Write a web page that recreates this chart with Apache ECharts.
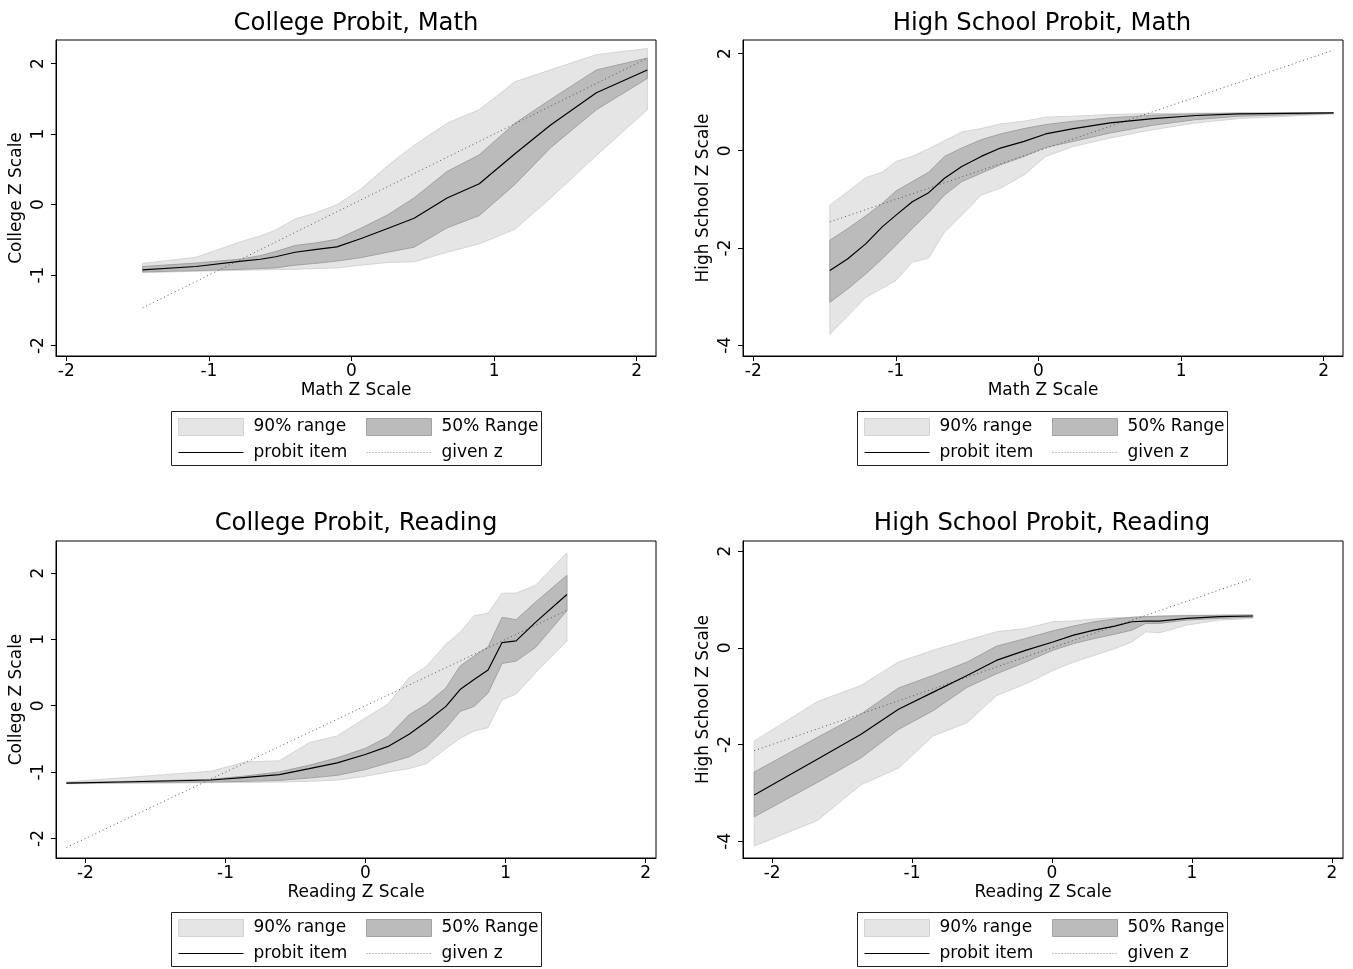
<!DOCTYPE html>
<html><head><meta charset="utf-8">
<script src="https://cdn.jsdelivr.net/npm/echarts@6/dist/echarts.min.js"></script>
<style>html,body{margin:0;padding:0;background:#fff}#c{width:1353px;height:969px}</style>
</head><body><div id="c"></div>
<script>
// ---------- Data ----------
const tickVals = [-2, -1, 0, 1, 2];
const tickValsHS = [-4, -2, 0, 2];

// Panel 1: College Probit, Math
const cm_x      = [-1.465,-1.091,-0.770,-0.639,-0.532,-0.396,-0.258,-0.103,0.063,0.253,0.439,0.670,0.896,1.146,1.396,1.717,2.074];
const cm_p95    = [-0.835,-0.748,-0.522,-0.445,-0.363,-0.205,-0.123,-0.002,0.214,0.551,0.840,1.153,1.345,1.740,1.910,2.125,2.212];
const cm_p75    = [-0.878,-0.830,-0.772,-0.724,-0.666,-0.580,-0.546,-0.493,-0.339,-0.147,0.094,0.469,0.705,1.153,1.490,1.908,2.077];
const cm_probit = [-0.926,-0.878,-0.801,-0.775,-0.740,-0.676,-0.638,-0.599,-0.484,-0.339,-0.195,0.094,0.296,0.720,1.129,1.586,1.908];
const cm_p25    = [-0.955,-0.936,-0.917,-0.907,-0.898,-0.859,-0.835,-0.801,-0.753,-0.676,-0.604,-0.330,-0.156,0.286,0.806,1.345,1.788];
const cm_p5     = [-0.965,-0.946,-0.931,-0.926,-0.922,-0.917,-0.907,-0.898,-0.859,-0.821,-0.811,-0.676,-0.556,-0.349,0.094,0.696,1.345];
const cm_given  = [-1.465,-1.091,-0.770,-0.639,-0.532,-0.396,-0.258,-0.103,0.063,0.253,0.439,0.670,0.896,1.146,1.396,1.717,2.074];

// Panel 2: High School Probit, Math
const hm_x      = [-1.463,-1.337,-1.210,-1.096,-0.999,-0.885,-0.770,-0.659,-0.538,-0.402,-0.267,-0.101,0.050,0.246,0.502,0.803,1.105,1.406,2.069];
const hm_p95    = [-1.117,-0.842,-0.552,-0.442,-0.221,-0.117,0.041,0.207,0.386,0.455,0.551,0.607,0.689,0.710,0.745,0.765,0.772,0.779,0.779];
const hm_p75    = [-1.841,-1.600,-1.338,-1.083,-0.828,-0.635,-0.442,-0.117,0.055,0.227,0.345,0.455,0.538,0.607,0.676,0.731,0.758,0.772,0.779];
const hm_probit = [-2.462,-2.221,-1.910,-1.566,-1.324,-1.048,-0.862,-0.566,-0.324,-0.117,0.055,0.193,0.345,0.455,0.572,0.662,0.724,0.759,0.779];
const hm_p25    = [-3.117,-2.841,-2.531,-2.221,-1.945,-1.600,-1.269,-0.910,-0.635,-0.462,-0.290,-0.117,0.069,0.193,0.365,0.524,0.641,0.710,0.765];
const hm_p5     = [-3.772,-3.393,-3.014,-2.827,-2.669,-2.290,-2.207,-1.669,-1.324,-0.910,-0.772,-0.497,-0.117,0.090,0.262,0.434,0.572,0.662,0.758];
const hm_given  = [-1.463,-1.337,-1.210,-1.096,-0.999,-0.885,-0.770,-0.659,-0.538,-0.402,-0.267,-0.101,0.050,0.246,0.502,0.803,1.105,1.406,2.069];

// Panel 3: College Probit, Reading
const cr_x      = [-2.135,-1.754,-1.103,-0.853,-0.615,-0.402,-0.202,-0.002,0.161,0.311,0.437,0.574,0.675,0.775,0.875,0.975,1.075,1.213,1.438];
const cr_p95    = [-1.149,-1.089,-0.987,-0.846,-0.830,-0.557,-0.456,-0.187,0.025,0.420,0.597,0.927,1.104,1.357,1.392,1.696,1.696,1.813,2.304];
const cr_p75    = [-1.159,-1.144,-1.109,-1.058,-0.997,-0.896,-0.785,-0.643,-0.466,-0.137,0.025,0.268,0.597,0.749,0.886,1.332,1.296,1.559,1.965];
const cr_probit = [-1.165,-1.149,-1.119,-1.078,-1.038,-0.947,-0.861,-0.734,-0.613,-0.430,-0.238,-0.010,0.243,0.395,0.537,0.952,0.977,1.256,1.676];
const cr_p25    = [-1.170,-1.159,-1.149,-1.139,-1.124,-1.089,-1.048,-0.962,-0.861,-0.770,-0.618,-0.339,-0.086,-0.010,0.192,0.638,0.673,0.876,1.433];
const cr_p5     = [-1.175,-1.170,-1.159,-1.154,-1.149,-1.139,-1.119,-1.063,-0.997,-0.947,-0.871,-0.643,-0.491,-0.380,-0.329,0.091,0.177,0.496,0.977];
const cr_given  = [-2.135,-1.754,-1.103,-0.853,-0.615,-0.402,-0.202,-0.002,0.161,0.311,0.437,0.574,0.675,0.775,0.875,0.975,1.075,1.213,1.438];

// Panel 4: High School Probit, Reading
const hr_x      = [-2.128,-1.674,-1.367,-1.097,-0.852,-0.607,-0.398,-0.190,0.006,0.154,0.301,0.448,0.571,0.669,0.767,0.963,1.196,1.434];
const hr_p95    = [-1.931,-1.110,-0.783,-0.296,-0.052,0.157,0.330,0.400,0.539,0.553,0.595,0.623,0.630,0.644,0.658,0.671,0.678,0.685];
const hr_p75    = [-2.571,-1.850,-1.374,-0.832,-0.574,-0.296,0.031,0.191,0.351,0.449,0.539,0.595,0.630,0.644,0.651,0.665,0.671,0.678];
const hr_probit = [-3.045,-2.300,-1.792,-1.270,-0.922,-0.574,-0.261,-0.052,0.120,0.261,0.365,0.449,0.539,0.553,0.553,0.609,0.644,0.658];
const hr_p25    = [-3.497,-2.780,-2.279,-1.688,-1.305,-0.818,-0.539,-0.296,-0.052,0.087,0.191,0.282,0.365,0.504,0.504,0.574,0.609,0.630];
const hr_p5     = [-4.102,-3.567,-2.836,-2.488,-1.827,-1.548,-0.992,-0.748,-0.470,-0.296,-0.157,-0.017,0.122,0.330,0.310,0.470,0.574,0.609];
const hr_given  = [-2.128,-1.674,-1.367,-1.097,-0.852,-0.607,-0.398,-0.190,0.006,0.154,0.301,0.448,0.571,0.669,0.767,0.963,1.196,1.434];

const titles = ['College Probit, Math', 'High School Probit, Math', 'College Probit, Reading', 'High School Probit, Reading'];
const xNames = ['Math Z Scale', 'Math Z Scale', 'Reading Z Scale', 'Reading Z Scale'];
const yNames = ['College Z Scale', 'High School Z Scale', 'College Z Scale', 'High School Z Scale'];
const legendNames = ['90% range', '50% Range', 'probit item', 'given z'];

// ---------- Styles / layout ----------
const FONT = 'DejaVu Sans';
const LIGHT = '#e5e5e5', LIGHT_EDGE = '#d4d4d4';
const DARK = '#bbbbbb', DARK_EDGE = '#a2a2a2';

const panels = [
  {x: cm_x, p5: cm_p5, p25: cm_p25, pr: cm_probit, p75: cm_p75, p95: cm_p95, gz: cm_given,
   grid: {left: 56, top: 40, width: 600, height: 316}, xr: [-2.072, 2.135], yr: [-2.147, 2.333], yt: tickVals, cx: 351, ty: 7, lx: 171, ly: 411},
  {x: hm_x, p5: hm_p5, p25: hm_p25, pr: hm_probit, p75: hm_p75, p95: hm_p95, gz: hm_given,
   grid: {left: 743, top: 40, width: 600, height: 316}, xr: [-2.072, 2.135], yr: [-4.221, 2.277], yt: tickValsHS, cx: 1037, ty: 7, lx: 857, ly: 411},
  {x: cr_x, p5: cr_p5, p25: cr_p25, pr: cr_probit, p75: cr_p75, p95: cr_p95, gz: cr_given,
   grid: {left: 56, top: 541, width: 600, height: 317}, xr: [-2.21, 2.074], yr: [-2.294, 2.482], yt: tickVals, cx: 351, ty: 507, lx: 171, ly: 912},
  {x: hr_x, p5: hr_p5, p25: hr_p25, pr: hr_probit, p75: hr_p75, p95: hr_p95, gz: hr_given,
   grid: {left: 743, top: 541, width: 600, height: 317}, xr: [-2.208, 2.079], yr: [-4.348, 2.209], yt: tickValsHS, cx: 1037, ty: 507, lx: 857, ly: 912}
];

function band(i, xs, lo, hi, fill, edge, name) {
  return {
    type: 'custom', name: name, xAxisIndex: i, yAxisIndex: i, silent: true, clip: true,
    itemStyle: {color: fill, borderColor: edge, borderWidth: 1},
    data: [[xs[0], lo[0]]],
    renderItem: function (params, api) {
      const pts = [];
      for (let k = 0; k < xs.length; k++) pts.push(api.coord([xs[k], hi[k]]));
      for (let k = xs.length - 1; k >= 0; k--) pts.push(api.coord([xs[k], lo[k]]));
      return {type: 'polygon', shape: {points: pts}, style: {fill: fill, stroke: edge, lineWidth: 1}};
    }
  };
}
function pairs(xs, ys) { return xs.map((v, k) => [v, ys[k]]); }

const grids = [], xAxes = [], yAxes = [], series = [], titleArr = [], legends = [], graphics = [];
const axisText = {fontFamily: FONT, fontSize: 17, color: '#000'};

panels.forEach((p, i) => {
  grids.push(Object.assign({show: true, borderColor: '#000', borderWidth: 1, backgroundColor: '#fff'}, p.grid));
  xAxes.push({
    type: 'value', gridIndex: i, min: p.xr[0], max: p.xr[1],
    axisLine: {show: true, onZero: false, lineStyle: {color: '#000', width: 1}},
    axisTick: {show: true, customValues: tickVals, length: 5, lineStyle: {color: '#000'}},
    axisLabel: Object.assign({customValues: tickVals, margin: 7}, axisText),
    splitLine: {show: false},
    name: xNames[i], nameLocation: 'middle', nameGap: 26.5, nameTextStyle: axisText
  });
  yAxes.push({
    type: 'value', gridIndex: i, min: p.yr[0], max: p.yr[1],
    axisLine: {show: true, onZero: false, lineStyle: {color: '#000', width: 1}},
    axisTick: {show: true, customValues: p.yt, length: 5, lineStyle: {color: '#000'}},
    axisLabel: Object.assign({customValues: p.yt, margin: 9, rotate: 90}, axisText),
    splitLine: {show: false},
    name: yNames[i], nameLocation: 'middle', nameGap: 31, nameRotate: 90, nameTextStyle: axisText
  });
  series.push(band(i, p.x, p.p5, p.p95, LIGHT, LIGHT_EDGE, legendNames[0]));
  series.push(band(i, p.x, p.p25, p.p75, DARK, DARK_EDGE, legendNames[1]));
  series.push({type: 'line', name: legendNames[3], xAxisIndex: i, yAxisIndex: i, data: pairs(p.x, p.gz),
    symbol: 'none', silent: true, itemStyle: {color: '#555'}, lineStyle: {color: '#555', width: 1, type: [1, 3]}, z: 3});
  series.push({type: 'line', name: legendNames[2], xAxisIndex: i, yAxisIndex: i, data: pairs(p.x, p.pr),
    symbol: 'none', silent: true, itemStyle: {color: '#000'}, lineStyle: {color: '#000', width: 1.2}, z: 4});
  titleArr.push({text: titles[i], left: p.cx, top: p.ty, textAlign: 'center',
    textStyle: {fontFamily: FONT, fontSize: 24.3, fontWeight: 'normal', color: '#000'}});
  const common = {orient: 'vertical', itemWidth: 65, itemHeight: 17, itemGap: 8, selectedMode: false, padding: 0,
    textStyle: {fontFamily: FONT, fontSize: 17, color: '#000', padding: [0, 0, 0, 5]}};
  legends.push(Object.assign({left: p.lx + 7, top: p.ly + 7, data: [
    {name: legendNames[0], icon: 'rect', itemStyle: {color: LIGHT, borderColor: LIGHT_EDGE, borderWidth: 1}},
    {name: legendNames[2], itemStyle: {opacity: 0}, lineStyle: {color: '#000', width: 1}}
  ]}, common));
  legends.push(Object.assign({left: p.lx + 195, top: p.ly + 7, data: [
    {name: legendNames[1], icon: 'rect', itemStyle: {color: DARK, borderColor: DARK_EDGE, borderWidth: 1}},
    {name: legendNames[3], itemStyle: {opacity: 0}, lineStyle: {color: '#888', width: 1, type: [1, 2]}}
  ]}, common));
  graphics.push({type: 'rect', shape: {x: p.lx + 0.5, y: p.ly + 0.5, width: 370, height: 54},
    style: {fill: 'none', stroke: '#222', lineWidth: 1}, silent: true, z: -1});
});

const chart = echarts.init(document.getElementById('c'), null, {renderer: 'canvas'});
chart.setOption({
  backgroundColor: '#fff',
  animation: false,
  title: titleArr,
  grid: grids, xAxis: xAxes, yAxis: yAxes,
  legend: legends,
  graphic: graphics,
  series: series
});
</script></body></html>
